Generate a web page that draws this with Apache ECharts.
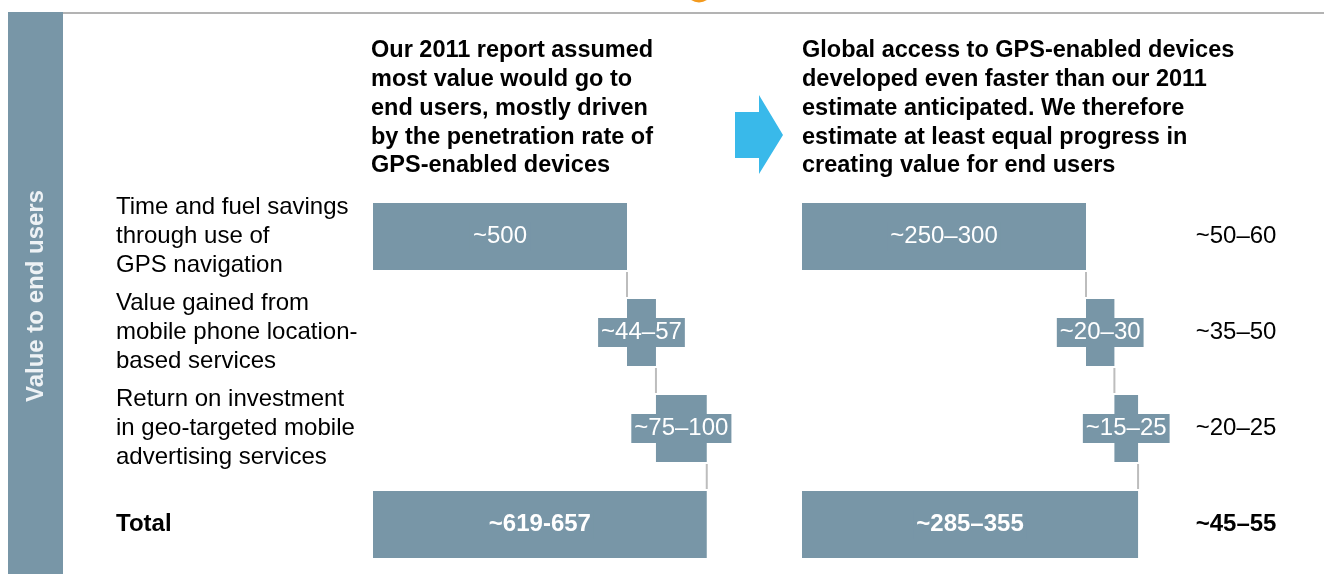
<!DOCTYPE html>
<html>
<head>
<meta charset="utf-8">
<script src="https://cdn.jsdelivr.net/npm/echarts@6/dist/echarts.min.js"></script>
<style>
  html, body { margin: 0; padding: 0; background: #ffffff; }
  #chart { width: 1324px; height: 574px; }
</style>
</head>
<body>
<div id="chart"></div>
<script>
// Row names (shared by both waterfalls)
const categories = [
  'Time and fuel savings\nthrough use of\nGPS navigation',
  'Value gained from\nmobile phone location-\nbased services',
  'Return on investment\nin geo-targeted mobile\nadvertising services',
  'Total'
];

// 2011 estimate: bars drawn to the upper end of each range
const estimate2011 = [500, 57, 100, 657];
const estimate2011Labels = ['~500', '~44–57', '~75–100', '~619-657'];

// Current estimate
const estimateNow = [300, 30, 25, 355];
const estimateNowLabels = ['~250–300', '~20–30', '~15–25', '~285–355'];

// Right-hand column
const changeLabels = ['~50–60', '~35–50', '~20–25', '~45–55'];

const header2011 = [
  'Our 2011 report assumed',
  'most value would go to',
  'end users, mostly driven',
  'by the penetration rate of',
  'GPS-enabled devices'
];
const headerNow = [
  'Global access to GPS-enabled devices',
  'developed even faster than our 2011',
  'estimate anticipated. We therefore',
  'estimate at least equal progress in',
  'creating value for end users'
];
const sideTitle = 'Value to end users';

const FONT = '"Liberation Sans", Arial, Helvetica, sans-serif';
const BAR = '#7896a7';
const BAR_WIDTH = 67;
const LAST = categories.length - 1;

// Invisible offsets for the waterfall: each step starts where the previous ended,
// the total row starts at zero.
function offsets(vals) {
  let run = 0;
  return vals.map((v, i) => {
    if (i === vals.length - 1) return 0;
    const b = run;
    run += v;
    return b;
  });
}

function waterfall(values, labels, gridIndex) {
  const base = offsets(values);
  const baseSeries = {
    type: 'bar', stack: 'w' + gridIndex, xAxisIndex: gridIndex, yAxisIndex: gridIndex,
    barWidth: BAR_WIDTH, silent: true,
    itemStyle: { color: 'transparent' },
    data: base
  };
  const valueSeries = {
    type: 'bar', stack: 'w' + gridIndex, xAxisIndex: gridIndex, yAxisIndex: gridIndex,
    barWidth: BAR_WIDTH,
    itemStyle: { color: BAR },
    data: values.map((v, i) => ({
      value: v,
      label: {
        show: true,
        position: 'inside',
        formatter: labels[i],
        color: '#ffffff',
        fontFamily: FONT,
        fontSize: 24,
        lineHeight: 24,
        fontWeight: i === LAST ? 'bold' : 'normal',
        backgroundColor: BAR,
        padding: [3, 3, 2, 3]
      }
    }))
  };
  // thin grey connectors from the end of one step down to the next row
  const connectors = {
    type: 'custom', xAxisIndex: gridIndex, yAxisIndex: gridIndex, silent: true, z: 1,
    data: values.slice(0, LAST).map((v, i) => [base[i] + v, i]),
    renderItem(params, api) {
      const x = api.value(0);
      const i = api.value(1);
      const p1 = api.coord([x, i]);
      const p2 = api.coord([x, i + 1]);
      const half = BAR_WIDTH / 2 + 2;
      return {
        type: 'line',
        shape: { x1: p1[0], y1: p1[1] + half, x2: p2[0], y2: p2[1] - half },
        style: { stroke: '#bdbdbd', lineWidth: 2 }
      };
    }
  };
  return [baseSeries, valueSeries, connectors];
}

const chart = echarts.init(document.getElementById('chart'), null, { renderer: 'canvas' });

const option = {
  animation: false,
  backgroundColor: '#ffffff',
  grid: [
    { left: 373, top: 188.5, width: 700 * 254 / 500, height: 384 },
    { left: 802, top: 188.5, width: 400 * 284 / 300, height: 384 }
  ],
  xAxis: [
    { gridIndex: 0, type: 'value', min: 0, max: 700, show: false },
    { gridIndex: 1, type: 'value', min: 0, max: 400, show: false }
  ],
  yAxis: [
    {
      gridIndex: 0, type: 'category', data: categories, inverse: true,
      axisLine: { show: false }, axisTick: { show: false }, splitLine: { show: false },
      axisLabel: {
        align: 'left', margin: 257,
        color: '#000000', fontFamily: FONT, fontSize: 24, lineHeight: 29,
        formatter: (v, i) => i === LAST ? '{b|' + v + '}' : v,
        rich: { b: { fontWeight: 'bold', fontFamily: FONT, fontSize: 24, color: '#000000' } }
      }
    },
    {
      gridIndex: 1, type: 'category', data: categories, inverse: true, position: 'right',
      axisLine: { show: false }, axisTick: { show: false }, splitLine: { show: false },
      axisLabel: {
        align: 'left', margin: 15,
        color: '#000000', fontFamily: FONT, fontSize: 24,
        formatter: (v, i) => i === LAST ? '{b|' + changeLabels[i] + '}' : changeLabels[i],
        rich: { b: { fontWeight: 'bold', fontFamily: FONT, fontSize: 24, color: '#000000' } }
      }
    }
  ],
  series: [
    ...waterfall(estimate2011, estimate2011Labels, 0),
    ...waterfall(estimateNow, estimateNowLabels, 1)
  ],
  graphic: [
    { type: 'rect', shape: { x: 8, y: 12, width: 55, height: 562 }, style: { fill: BAR }, silent: true },
    { type: 'rect', shape: { x: 63, y: 12, width: 1261, height: 2 }, style: { fill: '#b3b3b3' }, silent: true },
    { type: 'circle', shape: { cx: 699, cy: -11, r: 13.5 }, style: { fill: '#f39a1e' }, silent: true },
    {
      type: 'polygon', silent: true,
      shape: { points: [[735, 112], [759, 112], [759, 95], [783, 135], [759, 174], [759, 158], [735, 158]] },
      style: { fill: '#39b9ea' }
    },
    {
      type: 'text', x: 371, y: 36.5, silent: true,
      style: {
        text: header2011.join('\n'), fill: '#000000',
        fontFamily: FONT, fontSize: 23.5, fontWeight: 'bold', lineHeight: 28.75,
        textAlign: 'left', textVerticalAlign: 'top'
      }
    },
    {
      type: 'text', x: 802, y: 36.5, silent: true,
      style: {
        text: headerNow.join('\n'), fill: '#000000',
        fontFamily: FONT, fontSize: 23.5, fontWeight: 'bold', lineHeight: 28.75,
        textAlign: 'left', textVerticalAlign: 'top'
      }
    },
    {
      type: 'text', x: 36, y: 296, rotation: Math.PI / 2, silent: true,
      style: {
        text: sideTitle, fill: '#eef2f5',
        fontFamily: FONT, fontSize: 24, fontWeight: 'bold',
        textAlign: 'center', textVerticalAlign: 'middle'
      }
    }
  ]
};

chart.setOption(option);
</script>
</body>
</html>
